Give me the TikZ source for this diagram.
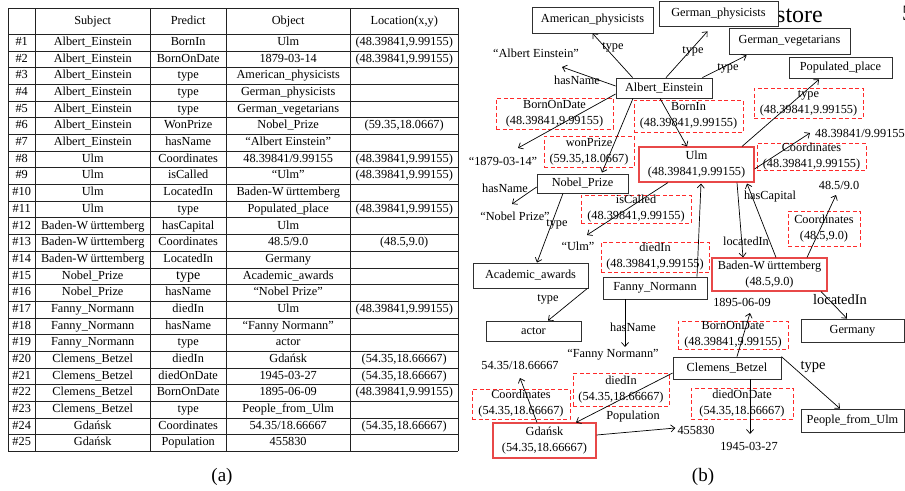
\documentclass[tikz,border=0pt]{standalone}
\usepackage{fontspec}
\setmainfont{Liberation Serif}
\usetikzlibrary{matrix,arrows.meta,calc}
\definecolor{boxline}{HTML}{303030}
\definecolor{redline}{HTML}{E84848}
\definecolor{dashred}{HTML}{FF2A2A}
\definecolor{tabline}{HTML}{222222}
\begin{document}
\begin{tikzpicture}[x=1pt,y=-1pt,
  every node/.style={font=\fontsize{12.3}{16}\selectfont, inner sep=0pt},
  box/.style={draw=boxline, line width=0.8pt, fill=white, align=center},
  rbox/.style={draw=redline, line width=1.1pt, align=center},
  dbox/.style={draw=dashred, line width=0.8pt, dash pattern=on 4pt off 2.5pt, align=center},
  lbl/.style={},
  biglbl/.style={font=\fontsize{14.5}{16}\selectfont},
  arr/.style={-{Straight Barb[length=4pt,width=7pt]}, line width=0.7pt},
  tline/.style={draw=tabline, line width=0.8pt}]
\useasboundingbox (0,0) rectangle (905,490);
\fill[white] (0,0) rectangle (905,490);

% ---------------- table (a) ----------------
\matrix (tab) [matrix of nodes, nodes in empty cells, anchor=north west, inner sep=0pt,
  row sep=0pt, column sep=0pt,
  nodes={anchor=center, minimum height=16.68pt, inner sep=0pt, text height=8.6pt, text depth=2.6pt},
  row 1/.style={nodes={minimum height=26pt}},
  column 1/.style={nodes={minimum width=27pt}},
  column 2/.style={nodes={minimum width=115pt}},
  column 3/.style={nodes={minimum width=76pt}},
  column 4/.style={nodes={minimum width=124pt}},
  column 5/.style={nodes={minimum width=108pt}}] at (8,8) {
  & Subject & Predict & Object & Location(x,y) \\
\#1 & Albert\_Einstein & BornIn & Ulm & {(48.39841,9.99155)} \\
\#2 & Albert\_Einstein & BornOnDate & 1879-03-14 & {(48.39841,9.99155)} \\
\#3 & Albert\_Einstein & type & American\_physicists & \\
\#4 & Albert\_Einstein & type & German\_physicists & \\
\#5 & Albert\_Einstein & type & German\_vegetarians & \\
\#6 & Albert\_Einstein & WonPrize & Nobel\_Prize & {(59.35,18.0667)} \\
\#7 & Albert\_Einstein & hasName & {“Albert Einstein”} & \\
\#8 & Ulm & Coordinates & 48.39841/9.99155 & {(48.39841,9.99155)} \\
\#9 & Ulm & isCalled & {“Ulm”} & {(48.39841,9.99155)} \\
\#10 & Ulm & LocatedIn & {Baden-W\kern2.5pt ürttemberg} & \\
\#11 & Ulm & type & Populated\_place & {(48.39841,9.99155)} \\
\#12 & {Baden-W\kern2.5pt ürttemberg} & hasCapital & Ulm & \\
\#13 & {Baden-W\kern2.5pt ürttemberg} & Coordinates & 48.5/9.0 & {(48.5,9.0)} \\
\#14 & {Baden-W\kern2.5pt ürttemberg} & LocatedIn & Germany & \\
\#15 & Nobel\_Prize & |[font=\fontsize{14}{16}\selectfont]| type & Academic\_awards & \\
\#16 & Nobel\_Prize & hasName & {“Nobel Prize”} & \\
\#17 & Fanny\_Normann & diedIn & Ulm & {(48.39841,9.99155)} \\
\#18 & Fanny\_Normann & hasName & {“Fanny Normann”} & \\
\#19 & Fanny\_Normann & type & actor & \\
\#20 & Clemens\_Betzel & diedIn & Gdańsk & {(54.35,18.66667)} \\
\#21 & Clemens\_Betzel & diedOnDate & 1945-03-27 & {(54.35,18.66667)} \\
\#22 & Clemens\_Betzel & BornOnDate & 1895-06-09 & {(48.39841,9.99155)} \\
\#23 & Clemens\_Betzel & type & People\_from\_Ulm & \\
\#24 & Gdańsk & Coordinates & 54.35/18.66667 & {(54.35,18.66667)} \\
\#25 & Gdańsk & Population & 455830 & \\
};
\draw[tline] (tab-1-1.north west) -- (tab-1-5.north east);
\foreach \r in {1,...,26} \draw[tline] (tab-\r-1.south west) -- (tab-\r-5.south east);
\draw[tline] (tab-1-1.north west) -- (tab-26-1.south west);
\foreach \c in {1,...,5} \draw[tline] (tab-1-\c.north east) -- (tab-26-\c.south east);
\node[font=\fontsize{19}{22}\selectfont] (capa) at (222,477) {(a)};

% ---------------- graph (b) ----------------
\node[font=\fontsize{24}{26}\selectfont, anchor=base west] (store) at (776,22) {store};
\node[font=\fontsize{22}{26}\selectfont, anchor=base west] (five) at (902,20) {5};

% black boxes
\node[box, minimum width=121pt, minimum height=26pt] (amer) at (592.5,20) {American\_physicists};
\node[box, minimum width=119pt, minimum height=25pt] (gphys) at (718.5,13.5) {German\_physicists};
\node[box, minimum width=121pt, minimum height=26pt] (gveg) at (789.5,41) {German\_vegetarians};
\node[box, minimum width=103pt, minimum height=21pt] (popl) at (840.5,67.5) {Populated\_place};
\node[box, minimum width=96pt, minimum height=20pt] (ae) at (664,88) {Albert\_Einstein};
\node[box, minimum width=91pt, minimum height=19pt] (nobel) at (582.5,183.5) {Nobel\_Prize};
\node[box, minimum width=115pt, minimum height=25pt] (acad) at (530.5,275.5) {Academic\_awards};
\node[box, minimum width=104pt, minimum height=22pt] (fanny) at (655,288) {Fanny\_Normann};
\node[box, minimum width=95pt, minimum height=20pt] (actor) at (533.5,331) {actor};
\node[box, minimum width=103pt, minimum height=23pt] (germany) at (852.5,330.5) {Germany};
\node[box, minimum width=108pt, minimum height=22pt] (clemens) at (727,368) {Clemens\_Betzel};
\node[box, minimum width=103pt, minimum height=23pt] (pful) at (852.5,420.5) {People\_from\_Ulm};

% red boxes
\node[rbox, minimum width=115pt, minimum height=35pt] (ulm) at (696.5,164.5) {Ulm\\(48.39841,9.99155)};
\node[rbox, minimum width=115pt, minimum height=33pt] (bw) at (769.5,274.5) {Baden-W\kern2.5pt ürttemberg\\(48.5,9.0)};
\node[rbox, minimum width=103pt, minimum height=35pt] (gdansk) at (544.5,440.5) {Gdańsk\\(54.35,18.66667)};

% dashed boxes
\node[dbox, minimum width=117pt, minimum height=31pt] (dbod1) at (554.5,113.5) {BornOnDate\\(48.39841,9.99155)};
\node[dbox, minimum width=109pt, minimum height=32pt] (dbornin) at (688.5,116) {BornIn\\(48.39841,9.99155)};
\node[dbox, minimum width=109pt, minimum height=30pt] (dtype) at (808.5,103) {type\\(48.39841,9.99155)};
\node[dbox, minimum width=90pt, minimum height=31pt] (dwon) at (589,151.5) {wonPrize\\(59.35,18.0667)};
\node[dbox, minimum width=109pt, minimum height=26pt] (dcoordu) at (811.5,157) {Coordinates\\(48.39841,9.99155)};
\node[dbox, minimum width=110pt, minimum height=28pt] (discalled) at (636,209) {isCalled\\(48.39841,9.99155)};
\node[dbox, minimum width=72pt, minimum height=35pt] (dcoordbw) at (824,228.5) {Coordinates\\(48.5,9.0)};
\node[dbox, minimum width=108pt, minimum height=30pt] (ddiedin1) at (655,257) {diedIn\\(48.39841,9.99155)};
\node[dbox, minimum width=110pt, minimum height=28pt] (dbod2) at (733,335) {BornOnDate\\(48.39841,9.99155)};
\node[dbox, minimum width=98pt, minimum height=30pt] (dcoordg) at (521,404) {Coordinates\\(54.35,18.66667)};
\node[dbox, minimum width=96pt, minimum height=33pt] (ddiedin2) at (621,389.5) {diedIn\\(54.35,18.66667)};
\node[dbox, minimum width=102pt, minimum height=31pt] (ddiedon) at (742,403.5) {diedOnDate\\(54.35,18.66667)};

% literal value nodes
\node (tae) at (536,53) {“Albert Einstein”};
\node (t1879) at (503,161) {“1879-03-14”};
\node[anchor=west] (t4839) at (815,133) {48.39841/9.99155};
\node (tnp) at (515,216) {“Nobel Prize”};
\node (tulm) at (578,246) {“Ulm”};
\node (t485) at (839,185) {48.5/9.0};
\node (t1895) at (742,302) {1895-06-09};
\node (tfn) at (613,355) {“Fanny Normann”};
\node (t5435) at (520,365) {54.35/18.66667};
\node (t455) at (696,430) {455830};
\node (t1945) at (749,446) {1945-03-27};

% edge labels
\node[lbl] (ltype1) at (613,47) {type};
\node[lbl] (ltype2) at (693,51) {type};
\node[lbl] (ltype3) at (728,68) {type};
\node[lbl] (lhasname1) at (577,80) {hasName};
\node[lbl] (lhasname2) at (505,188) {hasName};
\node[lbl] (ltypen) at (557,224) {type};
\node[lbl] (lhascap) at (770,197) {hasCapital};
\node[lbl] (llocin1) at (746,241) {locatedIn};
\node[lbl] (ltypeaa) at (548,299) {type};
\node[biglbl] (llocin2) at (840,300) {locatedIn};
\node[lbl] (lhasname3) at (633,327) {hasName};
\node[biglbl] (ltypep) at (813,367) {type};
\node[lbl] (lpop) at (633,417) {Population};

% edges
\draw[arr] ($(ae.north west)+(17,0)$) -- (amer.south);
\draw[arr] ($(ae.north)+(2,0)$) -- ($(gphys.south)+(-11,5)$);
\draw[arr] ($(ae.north east)+(-10,0)$) -- ($(gveg.south west)+(18,1)$);
\draw[arr] ($(ae.west)+(0,-2)$) -- ($(tae)+(26,14)$);
\draw[arr] ($(ae.west)+(0,6)$) -- ($(t1879)+(15,-13)$);
\draw[arr] ($(ae.south)+(-4,0)$) -- ($(ulm.north)+(-9.5,0)$);
\draw[arr] ($(ae.south)+(-31,0)$) -- ($(nobel.north)+(19.5,-1)$);
\draw[arr] ($(ulm.north)+(45.5,0)$) -- ($(popl.south)+(-21.5,1)$);
\draw[arr] ($(ulm.east)+(0,4.5)$) -- ($(t4839.west)+(-5,0)$);
\draw[arr] ($(ulm.south)+(-28.5,0)$) -- ($(tulm)+(9,-11)$);
\draw[arr] ($(ulm.south)+(40.5,0)$) -- ($(bw.north)+(-26.5,0)$);
\draw[arr] ($(bw.north)+(6.5,0)$) -- ($(ulm.south)+(50.5,1)$);
\draw[arr] ($(fanny.north)+(42,0)$) -- ($(ulm.south)+(4.5,1)$);
\draw[arr] ($(bw.north)+(37.5,0)$) -- ($(t485)+(-3,10)$);
\draw[arr] ($(bw.south)+(51.5,0)$) -- ($(germany.north)+(-5.5,0)$);
\draw[arr] ($(nobel.west)+(0,3.5)$) -- ($(tnp)+(-3,-12)$);
\draw[arr] ($(nobel.south)+(-19.5,0)$) -- ($(acad.north)+(6.5,0)$);
\draw[arr] ($(acad.south east)+(-1,0)$) -- ($(actor.north)+(14.5,0)$);
\draw[arr] ($(fanny.south)+(-30,0)$) -- ($(tfn)+(12,-8)$);
\draw[arr] ($(clemens.north)+(10,0)$) -- ($(t1895)+(8,11)$);
\draw[arr] (clemens.north east) -- ($(pful.north)+(-12.5,0)$);
\draw[arr] ($(clemens.south)+(23,0)$) -- ($(t1945)+(1,-12)$);
\draw[arr] ($(clemens.west)+(0,5)$) -- ($(gdansk.north)+(31.5,0)$);
\draw[arr] ($(gdansk.north)+(-7.5,0)$) -- ($(t5435)+(0,13)$);
\draw[arr] ($(gdansk.east)+(0,-5.5)$) -- ($(t455.west)+(-2,-2)$);

\node[font=\fontsize{19}{22}\selectfont] (capb) at (703,477) {(b)};
\end{tikzpicture}
\end{document}
